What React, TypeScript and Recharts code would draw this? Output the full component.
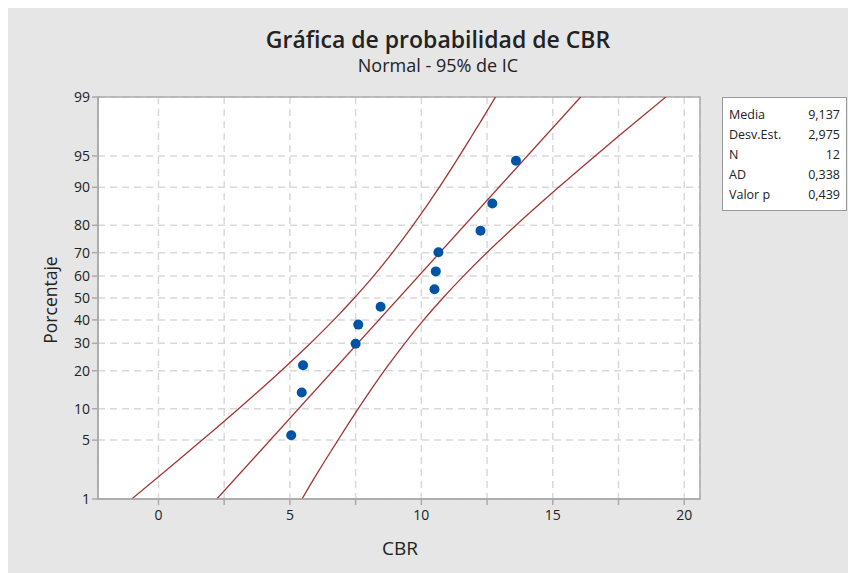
import React from 'react';
import { ComposedChart, Line, Scatter, XAxis, YAxis, CartesianGrid, ReferenceArea } from 'recharts';

// Observed CBR values and their plotted percentages
const cbrValues = [5.05, 5.45, 5.5, 7.5, 7.6, 8.45, 10.5, 10.55, 10.65, 12.25, 12.7, 13.6];
const cbrPercent = [5.6, 13.7, 21.8, 29.8, 37.9, 46.0, 54.0, 62.1, 70.2, 78.2, 86.3, 94.4];

// Fitted line (read at the ends)
const fitPercent = [1, 99];
const fitCbr = [2.22, 16.06];

// Confidence band curves (read at percentage levels)
const bandPercent = [1, 2, 3, 5, 10, 20, 30, 40, 50, 60, 70, 80, 90, 95, 97, 98, 99];
const bandLeft = [-1.02, 0.06, 0.74, 1.66, 3.05, 4.67, 5.78, 6.67, 7.45, 8.18, 8.9, 9.68, 10.68, 11.45, 11.93, 12.28, 12.82];
const bandRight = [5.46, 5.99, 6.34, 6.83, 7.6, 8.59, 9.37, 10.09, 10.82, 11.6, 12.49, 13.6, 15.22, 16.61, 17.53, 18.22, 19.3];

// Axis ticks
const yTickLabels = [1, 5, 10, 20, 30, 40, 50, 60, 70, 80, 90, 95, 99];
const xTicks = [0, 2.5, 5, 7.5, 10, 12.5, 15, 17.5, 20];
const xTickLabels = ['0', '', '5', '', '10', '', '15', '', '20'];

// Stats table
const statNames = ['Media', 'Desv.Est.', 'N', 'AD', 'Valor p'];
const statValues = ['9,137', '2,975', '12', '0,338', '0,439'];

// Inverse standard normal CDF (probability-scale axis transform)
function probit(p: number): number {
  const a = [-3.969683028665376e1, 2.209460984245205e2, -2.759285104469687e2, 1.38357751867269e2, -3.066479806614716e1, 2.506628277459239];
  const b = [-5.447609879822406e1, 1.615858368580409e2, -1.556989798598866e2, 6.680131188771972e1, -1.328068155288572e1];
  const c = [-7.784894002430293e-3, -3.223964580411365e-1, -2.400758277161838, -2.549732539343734, 4.374664141464968, 2.938163982698783];
  const d = [7.784695709041462e-3, 3.224671290700398e-1, 2.445134137142996, 3.754408661907416];
  const pl = 0.02425;
  if (p < pl) {
    const q = Math.sqrt(-2 * Math.log(p));
    return (((((c[0] * q + c[1]) * q + c[2]) * q + c[3]) * q + c[4]) * q + c[5]) / ((((d[0] * q + d[1]) * q + d[2]) * q + d[3]) * q + 1);
  }
  if (p > 1 - pl) {
    const q = Math.sqrt(-2 * Math.log(1 - p));
    return -(((((c[0] * q + c[1]) * q + c[2]) * q + c[3]) * q + c[4]) * q + c[5]) / ((((d[0] * q + d[1]) * q + d[2]) * q + d[3]) * q + 1);
  }
  const q = p - 0.5;
  const r = q * q;
  return (((((a[0] * r + a[1]) * r + a[2]) * r + a[3]) * r + a[4]) * r + a[5]) * q / (((((b[0] * r + b[1]) * r + b[2]) * r + b[3]) * r + b[4]) * r + 1);
}

const z = (pct: number) => probit(pct / 100);

const pointData = cbrValues.map((x, i) => ({ x, z: z(cbrPercent[i]) }));
const fitData = fitCbr.map((x, i) => ({ x, z: z(fitPercent[i]) }));
const leftData = bandLeft.map((x, i) => ({ x, z: z(bandPercent[i]) }));
const rightData = bandRight.map((x, i) => ({ x, z: z(bandPercent[i]) }));
const yTicks = yTickLabels.map((p) => z(p));
const yMin = z(1);
const yMax = z(99);
const xMin = -2.3;
const xMax = 20.6;

const FONT = '"Open Sans", "Noto Sans", sans-serif';
const LINE = '#a33434';
const DOT = '#0054a6';
const TXT = '#222';

export default function App() {
  return (
    <div style={{ width: 848, height: 567, background: '#e6e6e6', position: 'relative', marginTop: -2, fontFamily: FONT, color: TXT }}>
      <div style={{ position: 'absolute', left: 0, width: 860, top: 18, textAlign: 'center', fontSize: 23, fontWeight: 600, lineHeight: '31px' }}>
        Gráfica de probabilidad de CBR
      </div>
      <div style={{ position: 'absolute', left: 0, width: 860, top: 47, textAlign: 'center', fontSize: 18, fontWeight: 500, lineHeight: '24px' }}>
        Normal - 95% de IC
      </div>
      <div style={{ position: 'absolute', left: 42 - 60, top: 294 - 12, width: 120, textAlign: 'center', fontSize: 17.5, fontWeight: 500, transform: 'rotate(-90deg)', lineHeight: '24px' }}>
        Porcentaje
      </div>
      <div style={{ position: 'absolute', left: 392 - 50, top: 529, width: 100, textAlign: 'center', fontSize: 19, fontWeight: 500, lineHeight: '26px' }}>
        CBR
      </div>
      <ComposedChart width={848} height={567} margin={{ top: 91, right: 156, bottom: 44, left: 50 }}>
        <CartesianGrid fill="#ffffff" stroke="#d9d9d9" strokeWidth={1.5} strokeDasharray="7 5" />
        <XAxis
          type="number"
          dataKey="x"
          domain={[xMin, xMax]}
          allowDataOverflow
          ticks={xTicks}
          interval={0}
          tickFormatter={(_v: number, i: number) => xTickLabels[i]}
          height={30}
          tickSize={6}
          tickMargin={5}
          stroke="#aaaaaa"
          strokeWidth={1.5}
          tick={{ fill: TXT, fontSize: 14, fontFamily: FONT }}
        />
        <YAxis
          type="number"
          dataKey="z"
          domain={[yMin, yMax]}
          allowDataOverflow
          ticks={yTicks}
          interval={0}
          tickFormatter={(_v: number, i: number) => String(yTickLabels[i])}
          width={40}
          tickSize={6}
          tickMargin={2}
          stroke="#aaaaaa"
          strokeWidth={1.5}
          tick={{ fill: TXT, fontSize: 14, fontFamily: FONT }}
        />
        <ReferenceArea x1={xMin} x2={xMax} y1={yMin} y2={yMax} fill="none" stroke="#aaaaaa" strokeWidth={1.5} ifOverflow="visible" />
        <Line data={leftData} dataKey="z" type="monotone" stroke={LINE} strokeWidth={1.3} dot={false} isAnimationActive={false} />
        <Line data={fitData} dataKey="z" type="linear" stroke={LINE} strokeWidth={1.3} dot={false} isAnimationActive={false} />
        <Line data={rightData} dataKey="z" type="monotone" stroke={LINE} strokeWidth={1.3} dot={false} isAnimationActive={false} />
        <Scatter data={pointData} dataKey="z" fill={DOT} isAnimationActive={false}
          shape={(props: any) => <circle cx={props.cx} cy={props.cy} r={5} fill={DOT} />} />
      </ComposedChart>
      <div style={{ position: 'absolute', left: 714, top: 91, width: 125, height: 114, background: '#fff', border: '1px solid #999', boxSizing: 'border-box', padding: '7px 6px 0 6px', fontSize: 12.5, fontWeight: 500 }}>
        {statNames.map((n, i) => (
          <div key={n} style={{ display: 'flex', justifyContent: 'space-between', height: 20, lineHeight: '20px' }}>
            <span>{n}</span>
            <span>{statValues[i]}</span>
          </div>
        ))}
      </div>
    </div>
  );
}
